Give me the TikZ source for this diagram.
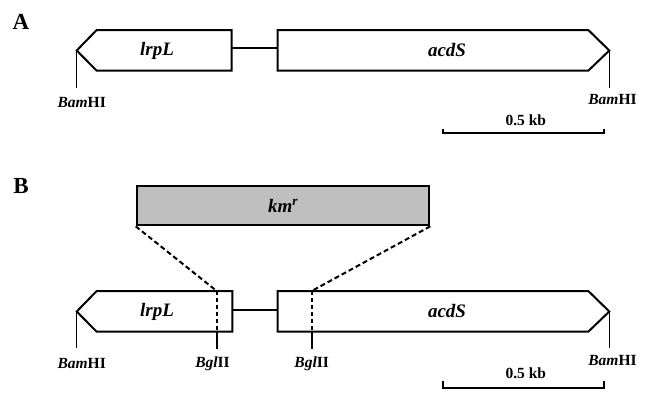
\documentclass[tikz,border=0pt]{standalone}
\usepackage{fontspec}
\setmainfont{Liberation Serif}
\begin{document}
\begin{tikzpicture}[x=1pt,y=-1pt,
  gene/.style={draw=black,line width=2pt,fill=white,line join=miter},
  link/.style={line width=2pt},
  tick/.style={line width=1.4pt},
  btick/.style={line width=1.8pt},
  cut/.style={line width=2pt,dash pattern=on 5pt off 3pt},
  genelab/.style={font=\fontsize{19}{19}\selectfont\bfseries\itshape},
  sitelab/.style={font=\fontsize{15.5}{15.5}\selectfont\bfseries},
  panel/.style={font=\fontsize{23}{23}\selectfont\bfseries},
  scalebar/.style={line width=2pt}]
\useasboundingbox (0,0) rectangle (649,410);

% ---------- Panel A ----------
\node[panel] (pA) at (21,22) {A};
\coordinate (lA) at (76.7,50.5);
\coordinate (rA) at (609.3,50.5);
\draw[link] (231.7,48.3) coordinate (lEndA) -- (277.7,48.3) coordinate (aStartA);
\draw[gene] (lA) -- (96.7,30) -- (231.7,30) -- (231.7,70.7) -- (96.7,70.7) -- cycle;
\draw[gene] (277.7,30) -- (588.3,30) -- (rA) -- (588.3,70.7) -- (277.7,70.7) -- cycle;
\node[genelab] (lrpLA) at (157,50.5) {lrpL};
\node[genelab] (acdSA) at (447,50.5) {acdS};
\coordinate (lAb) at (76.7,88.3);
\coordinate (rAb) at (609.3,88.3);
\draw[tick] (lA) -- (lAb);
\draw[tick] (rA) -- (rAb);
\node[sitelab] (bamLA) at (81.7,103) {\textit{Bam}HI};
\node[sitelab] (bamRA) at (612.5,100) {\textit{Bam}HI};
\node[sitelab] (kbA) at (525.8,120.5) {0.5 kb};
\coordinate (sA1) at (443.3,128.5);
\coordinate (sA2) at (604,128.5);
\draw[scalebar] (sA1) -- (443.3,133.3) -- (604,133.3) -- (sA2);

% ---------- Panel B ----------
\node[panel] (pB) at (21,186) {B};
\node[draw=black,line width=2pt,fill=black!25,minimum width=292.6pt,minimum height=39.3pt,anchor=north west,inner sep=0pt] (km) at (135.7,185) {};
\node[genelab] at (km.center) {km\textsuperscript{r}};
\coordinate (lB) at (76.7,311.5);
\coordinate (rB) at (609.3,311.5);
\draw[link] (232.3,310) -- (277.7,310);
\draw[gene] (lB) -- (96.7,291) -- (232.3,291) -- (232.3,331.7) -- (96.7,331.7) -- cycle;
\draw[gene] (277.7,291) -- (588.3,291) -- (rB) -- (588.3,331.7) -- (277.7,331.7) -- cycle;
\node[genelab] (lrpLB) at (157,311.5) {lrpL};
\node[genelab] (acdSB) at (447,311.5) {acdS};
% BglII sites
\coordinate (g1t) at (216.7,291);
\coordinate (g1b) at (216.7,331.7);
\coordinate (g1e) at (216.7,349.3);
\coordinate (g2t) at (311.7,291);
\coordinate (g2b) at (311.7,331.7);
\coordinate (g2e) at (311.7,349.3);
\draw[btick,dash pattern=on 4pt off 3pt] (g1t) -- (g1b);
\draw[btick,dash pattern=on 4pt off 3pt] (g2t) -- (g2b);
\draw[btick] (g1b) -- (g1e);
\draw[btick] (g2b) -- (g2e);
\draw[cut] (km.south west) -- (g1t);
\draw[cut] (km.south east) -- (g2t);
\node[sitelab] (bgl1) at (212.5,363.3) {\textit{Bgl}II};
\node[sitelab] (bgl2) at (311.7,363.3) {\textit{Bgl}II};
\coordinate (lBb) at (76.7,348.3);
\coordinate (rBb) at (609.3,348.3);
\draw[tick] (lB) -- (lBb);
\draw[tick] (rB) -- (rBb);
\node[sitelab] (bamLB) at (81.7,363.5) {\textit{Bam}HI};
\node[sitelab] (bamRB) at (612.5,360.5) {\textit{Bam}HI};
\node[sitelab] (kbB) at (525.8,373) {0.5 kb};
\coordinate (sB1) at (443.3,380.5);
\coordinate (sB2) at (604,380.5);
\draw[scalebar] (sB1) -- (443.3,388.3) -- (604,388.3) -- (sB2);
\end{tikzpicture}
\end{document}
